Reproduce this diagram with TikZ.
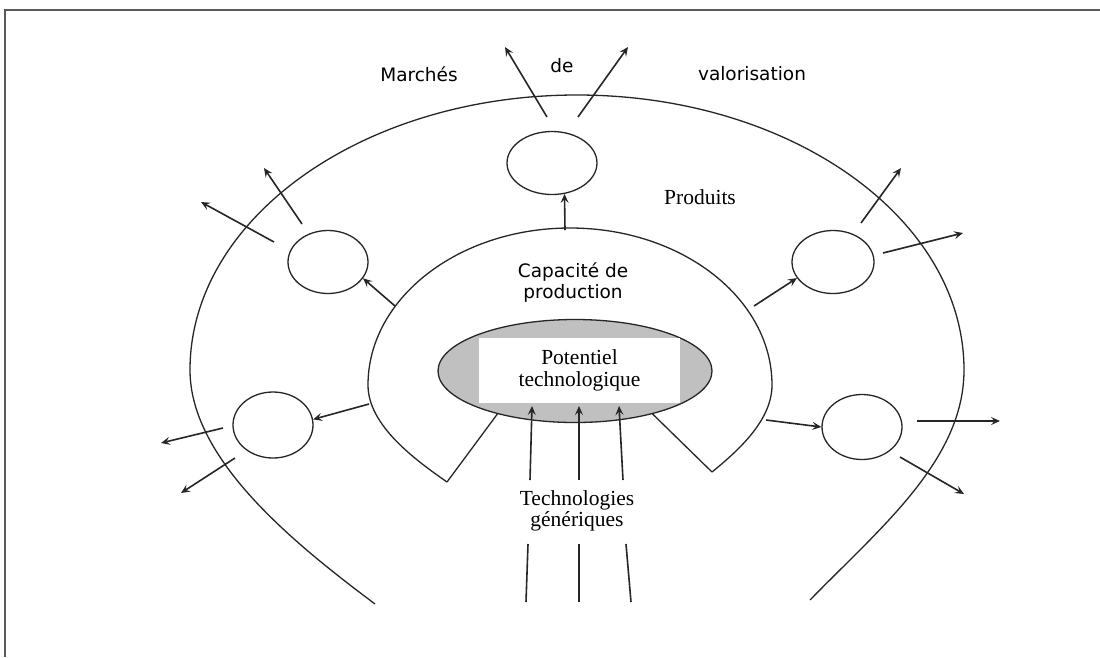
\documentclass[tikz,border=0pt]{standalone}
\usepackage{fontspec}
\newfontfamily\labelsans{DejaVu Sans}
\newfontfamily\labelserif{Liberation Serif}
\usetikzlibrary{arrows.meta,shapes.geometric}
\definecolor{potgray}{RGB}{192,192,192}
\definecolor{ink}{RGB}{38,38,38}

\begin{document}
\begin{tikzpicture}[x=1pt,y=-1pt,
  outline/.style={line width=1.3pt, draw=ink},
  arr/.style={line width=1.6pt, draw=ink, -{Stealth[length=9pt,width=8pt,inset=3.5pt]}},
  plain/.style={line width=1.6pt, draw=ink},
  bubble/.style={ellipse, outline, inner sep=0pt},
  sanslabel/.style={font=\labelsans\fontsize{18.5}{21}\selectfont, align=center, inner sep=0pt},
  seriflabel/.style={font=\labelserif\fontsize{21.5}{21.5}\selectfont, align=center, inner sep=0pt}]

\useasboundingbox (0,0) rectangle (1100,657);
\fill[white] (0,0) rectangle (1100,657);

% page frame (top and left edges)
\draw[line width=2pt, black!65] (5,657) -- (5,10) -- (1100,10);

% outer ring: products (open at the bottom)
\coordinate (ol) at (375,604);
\coordinate (or) at (810,600);
\draw[outline] (ol) .. controls (295,544) and (190,460) .. (190,370)
  arc[start angle=180, end angle=0, x radius=387pt, y radius=275pt]
  .. controls (964,460) and (880,528) .. (or);

% inner horseshoe: production capacity
\coordinate (hl) at (447,482);
\coordinate (hr) at (712,472);
\draw[outline] (hl) .. controls (414,459) and (368,425) .. (368,385)
  arc[start angle=180, end angle=0, x radius=202pt, y radius=157pt]
  .. controls (772,420) and (739,450) .. (hr);

% technological potential
\node[ellipse, outline, fill=potgray, minimum width=274pt, minimum height=103pt,
      inner sep=0pt] (ell) at (575,371) {};
\node[fill=white, minimum width=201pt, minimum height=65pt, inner sep=0pt,
      seriflabel] (pot) at (579.5,370.5) {Potentiel\\technologique};

\draw[outline] (hl) -- (ell.209);
\draw[outline] (hr) -- (ell.331);

% product bubbles
\node[bubble, minimum width=90pt, minimum height=63pt] (ct)  at (552,163) {};
\node[bubble, minimum width=80pt, minimum height=63pt] (cul) at (328,262) {};
\node[bubble, minimum width=80pt, minimum height=66pt] (cll) at (273,425) {};
\node[bubble, minimum width=82pt, minimum height=63pt] (cur) at (833,262) {};
\node[bubble, minimum width=80pt, minimum height=65pt] (clr) at (862,427) {};

% labels
\node[sanslabel] (mar) at (419,74) {Marchés};
\node[sanslabel] (de)  at (562,66) {de};
\node[sanslabel] (val) at (752,74) {valorisation};
\node[seriflabel] (prod) at (700,197) {Produits};
\node[sanslabel] (cap) at (573,283) {Capacité de\\production};
\node[seriflabel] (gen) at (577,511) {Technologies\\génériques};

% capacity feeding the products
\coordinate (st)  at (565,230);
\coordinate (sul) at (395,306);
\coordinate (sll) at (369,404);
\coordinate (sur) at (754,306);
\coordinate (slr) at (766,420);
\draw[arr] (st)  -- (ct.292);
\draw[arr] (sul) -- (cul.335);
\draw[arr] (sll) -- (cll.8);
\draw[arr] (sur) -- (cur.204);
\draw[arr] (slr) -- (clr.180);

% products going out to the markets
\coordinate (a1) at (547,117); \coordinate (b1) at (505,47);
\coordinate (a2) at (578,117); \coordinate (b2) at (628,47);
\coordinate (a3) at (302,224); \coordinate (b3) at (264,168);
\coordinate (a4) at (274,242); \coordinate (b4) at (201,202);
\coordinate (a5) at (223,428); \coordinate (b5) at (161,443);
\coordinate (a6) at (235,458); \coordinate (b6) at (181,493);
\coordinate (a7) at (861,223); \coordinate (b7) at (901,168);
\coordinate (a8) at (883,253); \coordinate (b8) at (963,233);
\coordinate (a9) at (917,421); \coordinate (b9) at (1000,421);
\coordinate (a10) at (900,457); \coordinate (b10) at (964,494);
\foreach \i in {1,...,10} { \draw[arr] (a\i) -- (b\i); }

% generic technologies entering the potential
\coordinate (g1) at (530,480); \coordinate (t1) at (532,406);
\coordinate (g2) at (579,480); \coordinate (t2) at (579,406);
\coordinate (g3) at (623,480); \coordinate (t3) at (619,406);
\foreach \i in {1,2,3} { \draw[arr] (g\i) -- (t\i); }

\coordinate (l1) at (528,544); \coordinate (m1) at (526,602);
\coordinate (l2) at (579,544); \coordinate (m2) at (579,602);
\coordinate (l3) at (626,544); \coordinate (m3) at (631,602);
\foreach \i in {1,2,3} { \draw[plain] (l\i) -- (m\i); }
\end{tikzpicture}
\end{document}
